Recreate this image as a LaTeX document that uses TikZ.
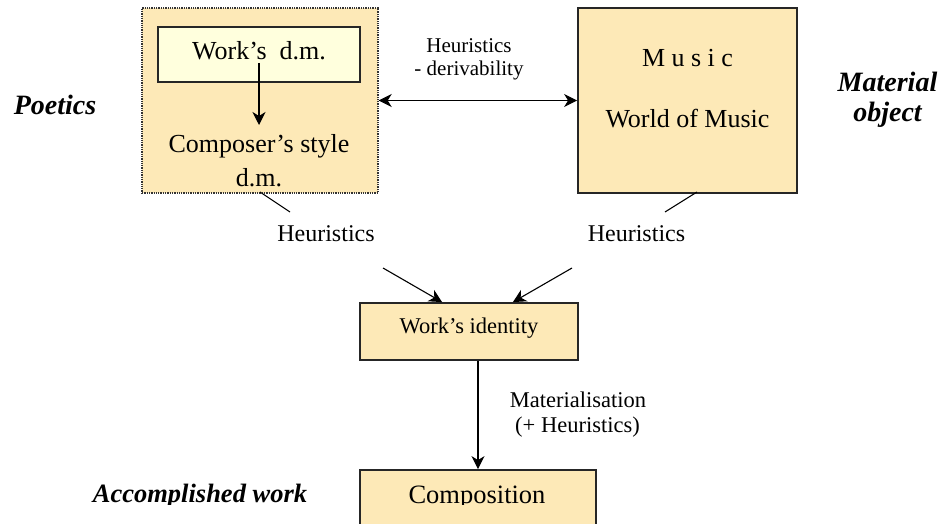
\documentclass[tikz,border=0pt]{standalone}
\usepackage{fontspec}
\setmainfont{Liberation Serif}
\usetikzlibrary{arrows.meta}
\definecolor{boxfill}{RGB}{253,233,183}
\definecolor{innerfill}{RGB}{255,255,221}
\newcommand\setfs[1]{\fontsize{#1}{#1}\selectfont}
\begin{document}
\begin{tikzpicture}[x=1pt,y=-1pt,
  box/.style={draw=black!85, line width=1.8pt, fill=boxfill, inner sep=0pt},
  dotbox/.style={draw=black!80, line width=1.4pt, dash pattern=on 1.3pt off 1pt, fill=boxfill, inner sep=0pt},
  innerbox/.style={draw=black!85, line width=1.8pt, fill=innerfill, inner sep=0pt},
  txt/.style={inner sep=0pt, anchor=base},
  conn/.style={line width=1.1pt, black},
  tip/.style={-{Stealth[length=13pt,width=13pt,inset=4pt]}},
  dtip/.style={{Stealth[length=13pt,width=13pt,inset=4pt]}-{Stealth[length=13pt,width=13pt,inset=4pt]}},
  side/.style={txt, font=\bfseries\itshape\setfs{28}},
  big/.style={txt, font=\setfs{26}},
  mid/.style={txt, font=\setfs{22.5}},
  lab/.style={txt, font=\setfs{24}},
  small/.style={txt, font=\setfs{21}}
]
\useasboundingbox (0,0) rectangle (942,524);

% boxes
\node[dotbox, minimum width=236pt, minimum height=185pt] (poet) at (260,100.5) {};
\node[innerbox, minimum width=202pt, minimum height=55pt] (wdm) at (259,54.5) {};
\node[box, minimum width=219pt, minimum height=185pt] (music) at (687.5,100.5) {};
\node[box, minimum width=218pt, minimum height=57pt] (ident) at (469,331.5) {};
\node[box, minimum width=236pt, minimum height=100pt] (comp) at (478,520) {};

% box texts
\node[big] (wdmtext) at (259,60) {Work’s~ d.m.};
\node[big] (cstyle) at (259,153) {Composer’s style};
\node[big] (cdm) at (259,186) {d.m.};
\node[big] (musictext) at (687.5,67) {M u s i c};
\node[big] (world) at (687.5,128) {World of Music};
\node[mid] (identtext) at (469,333) {Work’s identity};

% side captions
\node[side] (poetics) at (55,115) {Poetics};
\node[side] (material) at (887.5,92) {Material};
\node[side] (object) at (887.5,122) {object};

% captions cut at the lower margin
\begin{scope}
  \clip (0,0) rectangle (942,504);
  \node[txt, font=\bfseries\itshape\setfs{26.5}] (accomp) at (200,502) {Accomplished work};
  \node[txt, font=\setfs{26.5}] (comptext) at (477,503) {Composition};
\end{scope}

% labels
\node[small] (heurtop) at (469,53) {Heuristics};
\node[small] (deriv) at (469,76) {- derivability};
\node[lab] (heurl) at (326,241) {Heuristics};
\node[lab] (heurr) at (636.5,241) {Heuristics};
\node[mid] (matl) at (578,407) {Materialisation};
\node[mid] (math) at (577.5,432) {(+ Heuristics)};

% connectors
\draw[conn, dtip] (poet.east) -- (music.west);
\coordinate (wd1) at (259,63);
\coordinate (wd2) at (259,125);
\draw[conn, tip] (wd1) -- (wd2);

\coordinate (pl1) at (260,192);
\coordinate (pl2) at (290,212);
\draw[conn] (pl1) -- (pl2);
\coordinate (pr1) at (697,192);
\coordinate (pr2) at (665,212);
\draw[conn] (pr1) -- (pr2);

\coordinate (hl) at (383,268);
\coordinate (hr) at (572,268);
\draw[conn, tip] (hl) -- ([xshift=83pt]ident.north west);
\draw[conn, tip] (hr) -- ([xshift=-66pt]ident.north east);

\draw[conn, tip] (comp.north |- ident.south) -- (comp.north);
\end{tikzpicture}
\end{document}
